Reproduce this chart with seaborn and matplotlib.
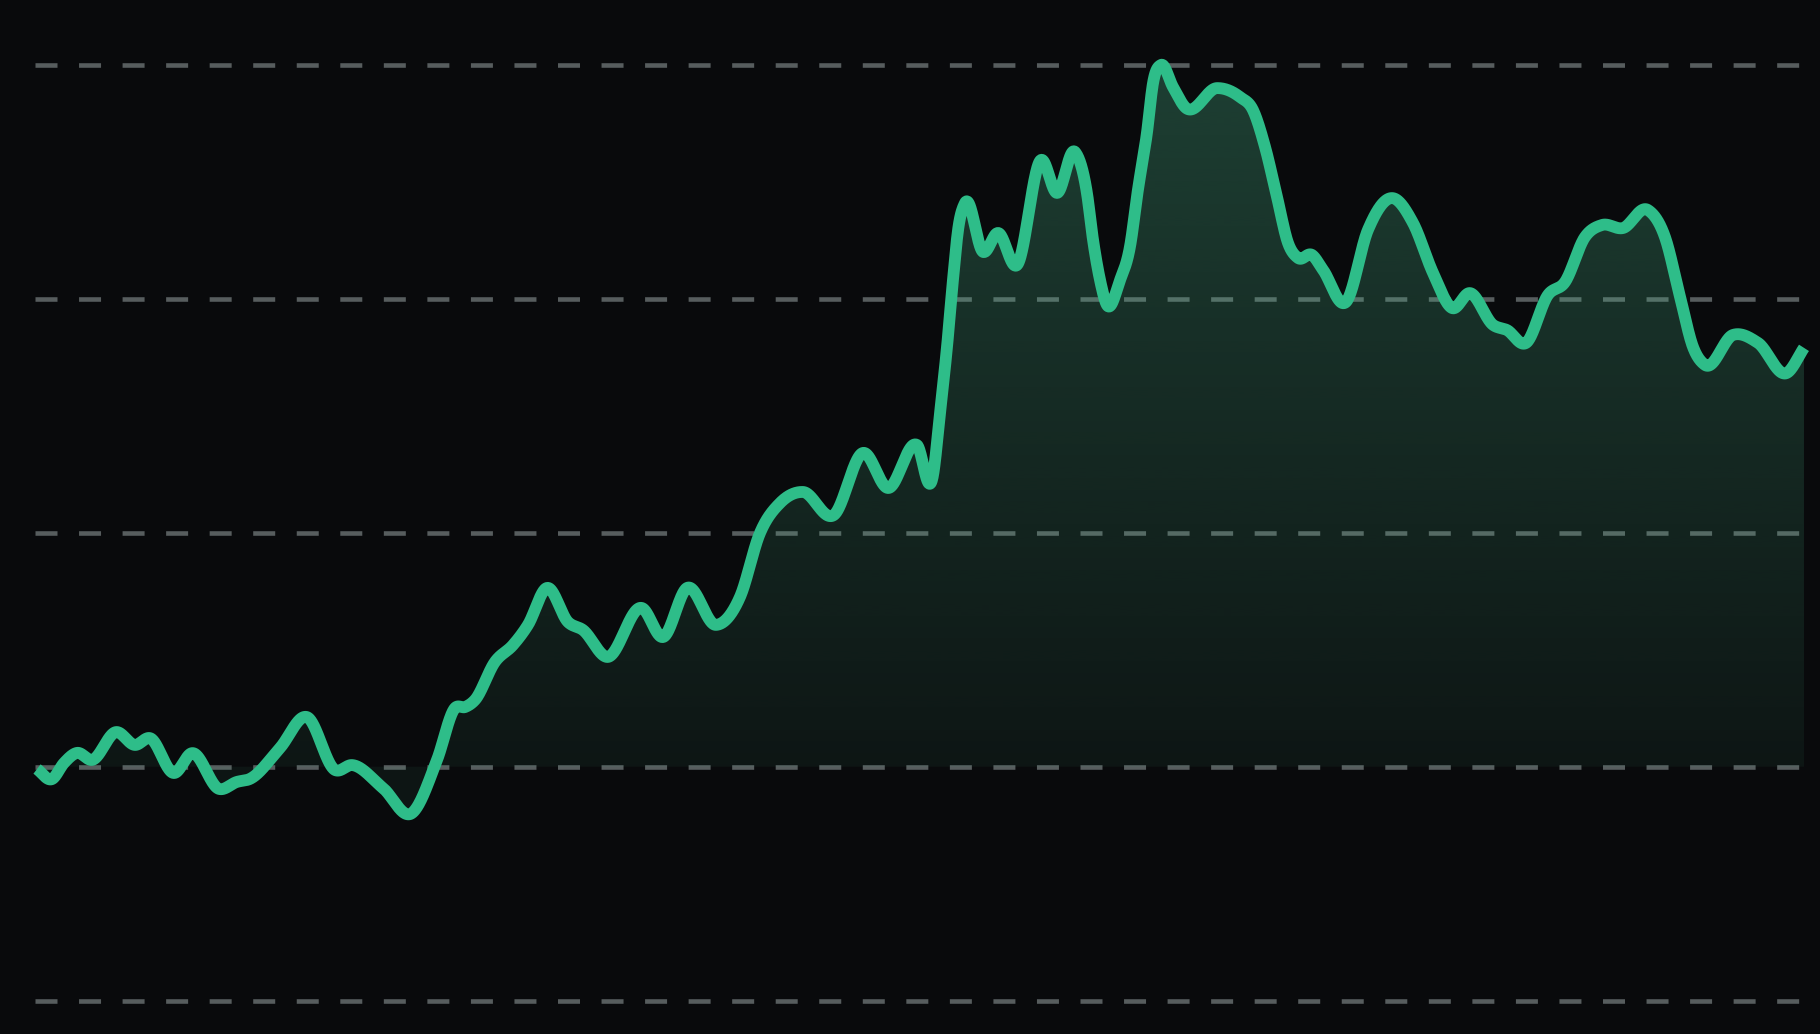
import numpy as np
import pandas as pd
import matplotlib
matplotlib.use("Agg")
import matplotlib.pyplot as plt
import seaborn as sns

# sample positions (session index) and values
t = [0.0, 0.88, 1.59, 2.35, 3.24, 4.65, 5.76, 6.65, 8.06, 9.12,
     10.71, 11.76, 12.53, 14.29, 15.88, 17.53, 18.53, 20.35, 22.06, 23.53,
     24.59, 25.18, 25.76, 26.94, 28.0, 28.88, 30.0, 31.24, 32.12, 33.53,
     35.59, 36.82, 38.24, 39.94, 41.35, 42.53, 43.71, 45.06, 46.88, 48.59,
     50.06, 51.76, 52.71, 53.12, 53.53, 53.88, 54.18, 54.59, 55.65, 56.53,
     57.65, 59.06, 60.0, 61.06, 61.76, 62.12, 62.53, 62.94, 63.71, 64.29,
     64.76, 65.29, 65.65, 66.12, 66.82, 67.53, 69.41, 70.76, 71.53, 72.24,
     72.94, 73.59, 74.18, 75.0, 75.65, 77.0, 78.29, 79.71, 80.94, 82.12,
     83.24, 84.29, 85.65, 86.47, 87.59, 88.88, 89.88, 91.06, 92.06, 93.29,
     94.76, 95.76, 96.65, 97.41, 98.12, 99.76, 101.24, 102.94, 103.94]
values = [-0.01, -0.053, 0.016, 0.059, 0.029, 0.148, 0.093, 0.122, -0.027, 0.058,
          -0.095, -0.065, -0.052, 0.080, 0.212, -0.014, 0.007, -0.091, -0.198, 0.029,
          0.251, 0.255, 0.285, 0.448, 0.520, 0.606, 0.764, 0.618, 0.584, 0.469,
          0.678, 0.554, 0.764, 0.606, 0.725, 0.999, 1.127, 1.174, 1.076, 1.341,
          1.191, 1.375, 1.247, 1.512, 1.794, 2.080, 2.294, 2.409, 2.200, 2.281,
          2.144, 2.593, 2.452, 2.627, 2.452, 2.251, 2.080, 1.973, 2.080, 2.221,
          2.465, 2.708, 2.922, 2.999, 2.905, 2.819, 2.900, 2.862, 2.806, 2.648,
          2.435, 2.238, 2.174, 2.187, 2.123, 1.986, 2.294, 2.430, 2.324, 2.110,
          1.960, 2.024, 1.888, 1.866, 1.811, 2.016, 2.071, 2.264, 2.315, 2.302,
          2.379, 2.264, 2.008, 1.794, 1.717, 1.845, 1.811, 1.683, 1.790]
grid_levels = [-1, 0, 1, 2, 3]

BG = "#090a0c"
GREEN = "#2ebd89"


def smooth_curve(x, y, n=4000):
    # cubic hermite through the points, tangents from the 3-point parabola
    x = np.asarray(x, float)
    y = np.asarray(y, float)
    h = np.diff(x)
    d = np.diff(y) / h
    m = np.empty_like(y)
    m[0], m[-1] = d[0], d[-1]
    m[1:-1] = (h[1:] * d[:-1] + h[:-1] * d[1:]) / (h[:-1] + h[1:])
    xs = np.linspace(x[0], x[-1], n)
    i = np.clip(np.searchsorted(x, xs) - 1, 0, len(x) - 2)
    s = (xs - x[i]) / h[i]
    h00 = 2 * s**3 - 3 * s**2 + 1
    h10 = s**3 - 2 * s**2 + s
    h01 = -2 * s**3 + 3 * s**2
    h11 = s**3 - s**2
    ys = h00 * y[i] + h10 * h[i] * m[i] + h01 * y[i + 1] + h11 * h[i] * m[i + 1]
    return xs, ys


sns.set_theme(style="dark", rc={"axes.facecolor": BG, "figure.facecolor": BG})

fig = plt.figure(figsize=(18.2, 10.34), dpi=100)
ax = fig.add_axes([35 / 1820, 0, 1770 / 1820, 1])
xlim = (-2 / 17, 1768 / 17)
ylim = (-1.1423, 3.2765)

tt, vv = smooth_curve(t, values)
df = pd.DataFrame({"t": tt, "value": vv})

# gradient area between the line and zero
area = ax.fill_between(df["t"], df["value"], 0, color="none", lw=0)
lev = np.linspace(-0.3, 3.05, 400)
alpha = 0.07 + 0.24 * np.clip(lev / 3.0, 0, 1)
grad = np.zeros((len(lev), 1, 4))
grad[..., 0] = 76 / 255
grad[..., 1] = 183 / 255
grad[..., 2] = 139 / 255
grad[..., 3] = alpha[:, None]
im = ax.imshow(grad, extent=[tt[0], tt[-1], lev[0], lev[-1]], origin="lower",
               aspect="auto", zorder=1, interpolation="bilinear")
im.set_clip_path(area.get_paths()[0], transform=ax.transData)

sns.lineplot(data=df, x="t", y="value", ax=ax, color=GREEN,
             estimator=None, sort=False, zorder=3)
line = ax.lines[-1]
line.set_linewidth(8.5)
line.set_solid_capstyle("butt")
line.set_solid_joinstyle("round")
line.set_clip_on(False)

ax.set_xlim(*xlim)
ax.set_ylim(*ylim)
ax.set_yticks(grid_levels)
ax.set_xticks([])
ax.set_axisbelow(True)
ax.grid(axis="y", color="#575d5e", linewidth=3.3, linestyle=(0, (4.8, 4.7)))
ax.grid(axis="x", visible=False)
ax.tick_params(length=0, labelleft=False, labelbottom=False)
ax.set_xlabel("")
ax.set_ylabel("")
for sp in ax.spines.values():
    sp.set_visible(False)

fig.savefig("out.png", dpi=100, facecolor=BG)
